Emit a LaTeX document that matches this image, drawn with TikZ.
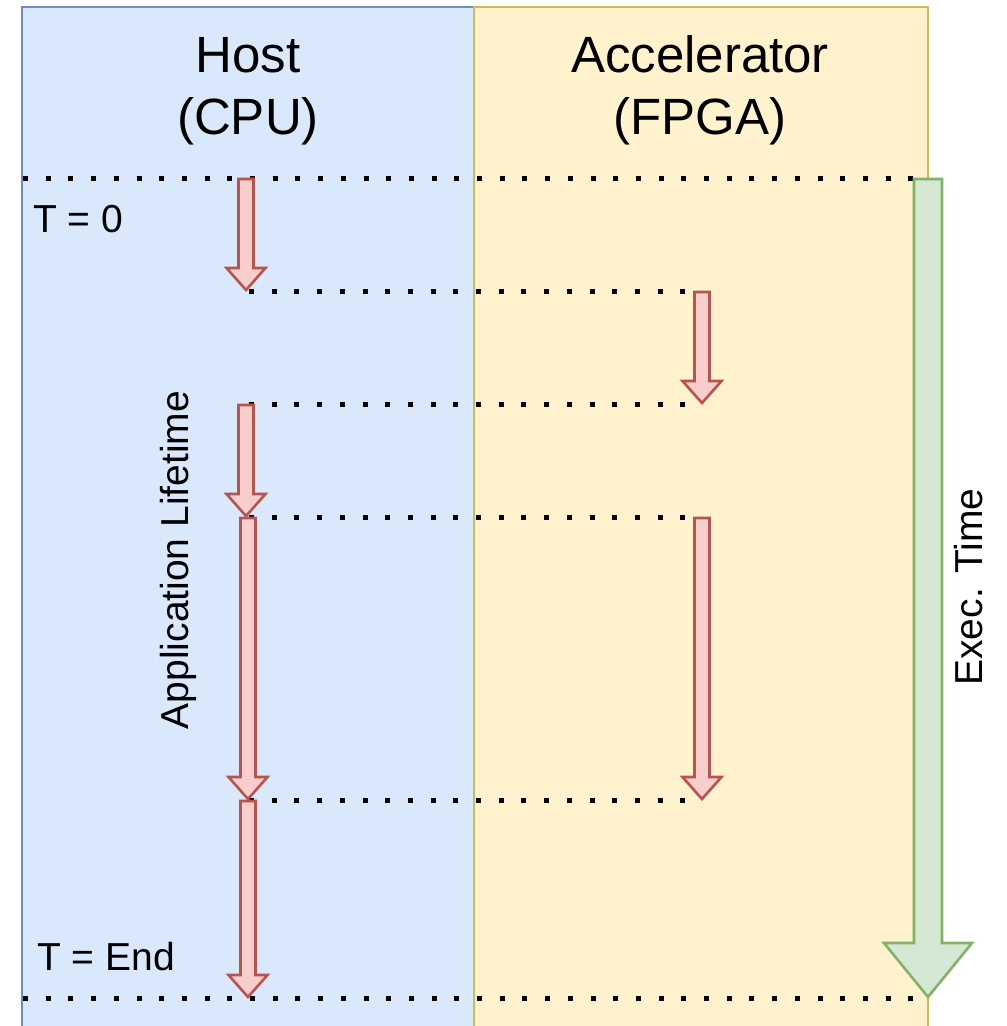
\documentclass[tikz,border=0pt]{standalone}
\usepackage{fontspec}
\setmainfont{Liberation Sans}
\definecolor{hostfill}{HTML}{DAE8FC}
\definecolor{hostline}{HTML}{6C8EBF}
\definecolor{accfill}{HTML}{FFF2CC}
\definecolor{accline}{HTML}{D6B656}
\definecolor{redfill}{HTML}{F8CECC}
\definecolor{redline}{HTML}{B85450}
\definecolor{greenfill}{HTML}{D5E8D4}
\definecolor{greenline}{HTML}{82B366}
% block arrow: style, x centre, y top, y tip, shaft half width, head half width, head length
\newcommand{\blkarrow}[7]{%
  \draw[#1] (#2-#5,#3) -- (#2+#5,#3) -- (#2+#5,#4-#7) -- (#2+#6,#4-#7)
    -- (#2,#4) -- (#2-#6,#4-#7) -- (#2-#5,#4-#7) -- cycle;}
\tikzset{
  lane/.style={line width=2.2pt},
  sync/.style={line width=5pt, dash pattern=on 5pt off 17.7pt, black},
  task/.style={fill=redfill, draw=redline, line width=2.6pt, line join=miter},
  clock/.style={fill=greenfill, draw=greenline, line width=2.6pt, line join=miter},
  title/.style={font=\fontsize{51}{60}\selectfont, inner sep=0pt},
  tlabel/.style={font=\fontsize{39}{46}\selectfont, inner sep=0pt},
}
\begin{document}
\begin{tikzpicture}[x=1pt,y=-1pt]
\useasboundingbox (0,0) rectangle (1007,1026);
\clip (0,0) rectangle (1007,1026);
% lanes
\draw[lane, fill=hostfill, draw=hostline] (22,7) rectangle (474,1040);
\draw[lane, fill=accfill, draw=accline] (474,7) rectangle (928,1040);
% time levels
\coordinate (t0) at (0,178);
\coordinate (t1) at (0,291);
\coordinate (t2) at (0,404);
\coordinate (t3) at (0,517);
\coordinate (t4) at (0,800);
\coordinate (t5) at (0,998);
% synchronisation lines
\draw[sync] (t0 -| 23,0) -- (t0 -| 914,0);
\draw[sync] (t1 -| 249,0) -- (t1 -| 690,0);
\draw[sync] (t2 -| 249,0) -- (t2 -| 690,0);
\draw[sync] (t3 -| 249,0) -- (t3 -| 690,0);
\draw[sync] (t4 -| 249,0) -- (t4 -| 690,0);
\draw[sync] (t5 -| 23,0) -- (t5 -| 914,0);
% host tasks
\blkarrow{task}{246}{179}{290}{7.5}{19.5}{22}
\blkarrow{task}{246}{405}{516}{7.5}{19.5}{22}
\blkarrow{task}{248}{518}{799}{7.5}{19.5}{22}
\blkarrow{task}{248}{801}{997}{7.5}{19.5}{22}
% accelerator tasks
\blkarrow{task}{702}{292}{403}{7.5}{19.5}{22}
\blkarrow{task}{702}{518}{799}{7.5}{19.5}{22}
% execution time
\blkarrow{clock}{928}{179}{997}{14}{44}{54}
% labels
\node[title, anchor=base] (host) at (248,72) {Host};
\node[title, anchor=base] (cpu) at (248,134) {(CPU)};
\node[title, anchor=base] (acc) at (700,72) {Accelerator};
\node[title, anchor=base] (fpga) at (700,134) {(FPGA)};
\node[tlabel, anchor=base west] (tzero) at (33,232) {T = 0};
\node[tlabel, anchor=base west] (tend) at (37,970) {T = End};
\node[tlabel, rotate=90] (life) at (178,560) {Application Lifetime};
\node[tlabel, rotate=90] (exec) at (969,587) {Exec. Time};
\end{tikzpicture}
\end{document}
